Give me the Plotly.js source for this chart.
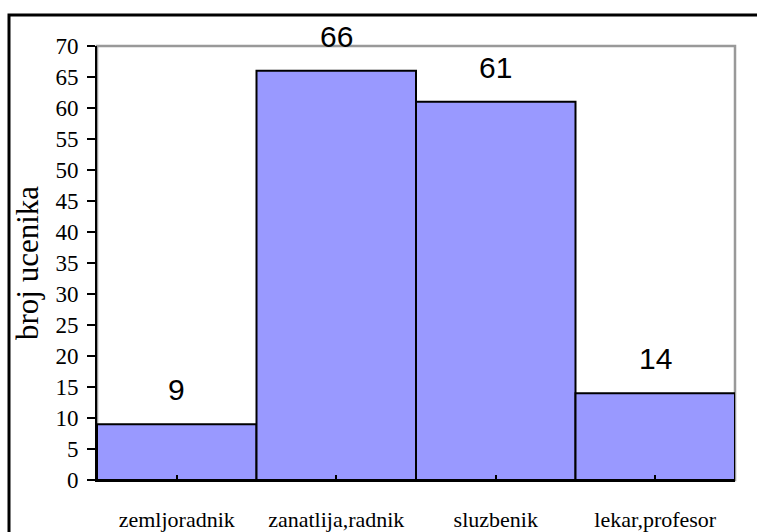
<!DOCTYPE html>
<html><head><meta charset="utf-8">
<script src="https://cdn.plot.ly/plotly-3.0.1.min.js"></script>
<style>html,body{margin:0;padding:0;background:#fff}</style>
</head><body><div id="chart" style="width:757px;height:532px"></div>
<script>
const categories = ["zemljoradnik", "zanatlija,radnik", "sluzbenik", "lekar,profesor"];
const values = [9, 66, 61, 14];
const yTicks = [0,5,10,15,20,25,30,35,40,45,50,55,60,65,70];

const serif = 'Liberation Serif, Times New Roman, serif';
const trace = {
  type: 'bar', x: categories, y: values,
  marker: {color: '#9999ff', line: {color: '#000', width: 2}},
  hoverinfo: 'none'
};
const annotations = categories.map((c, i) => ({
  x: c, y: values[i], xref: 'x', yref: 'y', text: String(values[i]),
  showarrow: false, yanchor: 'bottom', yshift: 16,
  font: {family: 'Liberation Sans, Arial, sans-serif', size: 30, color: '#000'}
}));
const layout = {
  width: 757, height: 532,
  margin: {l: 97, r: 22, t: 46, b: 52},
  paper_bgcolor: '#fff', plot_bgcolor: '#fff',
  bargap: 0, showlegend: false,
  xaxis: {
    showline: true, linecolor: '#000', linewidth: 2,
    ticks: 'inside', ticklen: 5, tickwidth: 2, tickcolor: '#000',
    ticklabelstandoff: 19,
    tickfont: {family: serif, size: 22, color: '#000'},
    showgrid: false, zeroline: false, fixedrange: true
  },
  yaxis: {
    range: [0, 70], tickvals: yTicks, ticktext: yTicks.map(String),
    showline: true, linecolor: '#000', linewidth: 2,
    ticks: 'outside', ticklen: 8, tickwidth: 2, tickcolor: '#000',
    ticklabelstandoff: 4,
    tickfont: {family: serif, size: 23, color: '#000'},
    showgrid: false, zeroline: false, fixedrange: true,
    title: {text: 'broj ucenika', standoff: 8, font: {family: serif, size: 31, color: '#000'}}
  },
  annotations: annotations,
  shapes: [
    {type: 'rect', xref: 'paper', yref: 'paper', x0: 0, x1: 1, y0: 0, y1: 1,
     line: {color: '#999', width: 2.5}, layer: 'below'},
    {type: 'rect', xref: 'paper', yref: 'paper',
     x0: -88/638, x1: 1 + 30/638, y0: -60/434, y1: 1 + 31/434,
     line: {color: '#000', width: 3}, fillcolor: 'rgba(0,0,0,0)', layer: 'below'}
  ]
};
Plotly.newPlot('chart', [trace], layout, {displayModeBar: false, staticPlot: true});
</script></body></html>
